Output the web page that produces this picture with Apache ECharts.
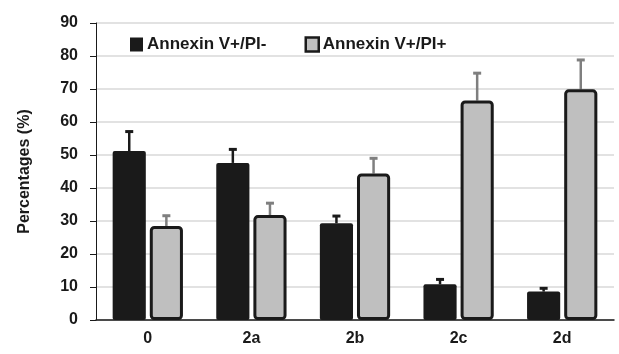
<!DOCTYPE html>
<html><head><meta charset="utf-8">
<script src="https://cdn.jsdelivr.net/npm/echarts@6/dist/echarts.min.js"></script>
<style>html,body{margin:0;padding:0;background:#fff}#c{width:619px;height:354px}</style>
</head><body><div id="c"></div>
<script>
var categories = ['0', '2a', '2b', '2c', '2d'];
var seriesNames = ['Annexin V+/PI-', 'Annexin V+/PI+'];
var pimValues = [51.2, 47.6, 29.3, 10.8, 8.6];
var pimErrors = [5.9, 4.1, 2.2, 1.5, 1.0];
var pipValues = [28.5, 31.8, 44.4, 66.5, 69.9];
var pipErrors = [3.1, 3.6, 4.6, 8.3, 8.9];
var yTicks = [0, 10, 20, 30, 40, 50, 60, 70, 80, 90];

var BAR_FRAC = 0.32, GAP_FRAC = 0.12;
var font = 'Liberation Sans';

function errorSeries(values, errors, idx, color) {
  return {
    type: 'custom',
    name: seriesNames[idx] + ' err',
    z: 1,
    silent: true,
    data: values.map(function (v, i) { return [i, v, v + errors[i]]; }),
    renderItem: function (params, api) {
      var band = api.size([1, 0])[0];
      var bw = band * BAR_FRAC;
      var gap = bw * GAP_FRAC;
      var total = 2 * bw + gap;
      var off = -total / 2 + bw / 2 + idx * (bw + gap);
      var base = api.coord([api.value(0), api.value(1)]);
      var top = api.coord([api.value(0), api.value(2)]);
      var x = base[0] + off;
      return {
        type: 'group',
        children: [
          { type: 'line', shape: { x1: x, y1: base[1], x2: x, y2: top[1] }, style: { stroke: color, lineWidth: 2.5 } },
          { type: 'line', shape: { x1: x - 4, y1: top[1], x2: x + 4, y2: top[1] }, style: { stroke: color, lineWidth: 3 } }
        ]
      };
    }
  };
}

var chart = echarts.init(document.getElementById('c'));
chart.setOption({
  animation: false,
  grid: { left: 96, right: 5, top: 23, bottom: 34 },
  legend: {
    data: [
      { name: seriesNames[0], icon: 'rect', itemStyle: { color: '#1a1a1a' } },
      { name: seriesNames[1], icon: 'rect', itemStyle: { color: '#bfbfbf', borderColor: '#1a1a1a', borderWidth: 2.5 } }
    ],
    top: 31, left: 125,
    itemWidth: 13, itemHeight: 14, itemGap: 38,
    textStyle: { fontFamily: font, fontWeight: 'bold', fontSize: 17, color: '#1a1a1a', padding: [0, 0, 0, -1] }
  },
  xAxis: {
    type: 'category',
    data: categories,
    axisLine: { lineStyle: { color: '#1a1a1a', width: 1.5 } },
    axisTick: { show: false },
    axisLabel: { fontFamily: font, fontWeight: 'bold', fontSize: 16, color: '#1a1a1a', margin: 11 }
  },
  yAxis: {
    type: 'value',
    min: 0, max: 90, interval: 10,
    name: 'Percentages (%)',
    nameLocation: 'middle',
    nameGap: 63,
    nameTextStyle: { fontFamily: font, fontWeight: 'bold', fontSize: 16, color: '#1a1a1a' },
    axisLine: { show: true, lineStyle: { color: '#1a1a1a', width: 1 } },
    axisTick: { show: true, length: 6, lineStyle: { color: '#1a1a1a' } },
    axisLabel: {
      fontFamily: font, fontWeight: 'bold', fontSize: 16, color: '#1a1a1a', margin: 18,
      formatter: function (v) { return yTicks.indexOf(v) >= 0 ? String(v) : ''; }
    },
    splitLine: { lineStyle: { color: '#d9d9d9', width: 1.5 } }
  },
  series: [
    {
      type: 'bar', name: seriesNames[0], data: pimValues,
      barWidth: (BAR_FRAC * 100) + '%', barGap: (GAP_FRAC * 100) + '%',
      itemStyle: { color: '#1a1a1a', borderRadius: 2 }, z: 2
    },
    {
      type: 'bar', name: seriesNames[1], data: pipValues,
      barWidth: (BAR_FRAC * 100) + '%',
      itemStyle: { color: '#bfbfbf', borderColor: '#1a1a1a', borderWidth: 3, borderRadius: 3 }, z: 2
    },
    errorSeries(pimValues, pimErrors, 0, '#1a1a1a'),
    errorSeries(pipValues, pipErrors, 1, '#7f7f7f')
  ]
});
</script>
</body></html>
